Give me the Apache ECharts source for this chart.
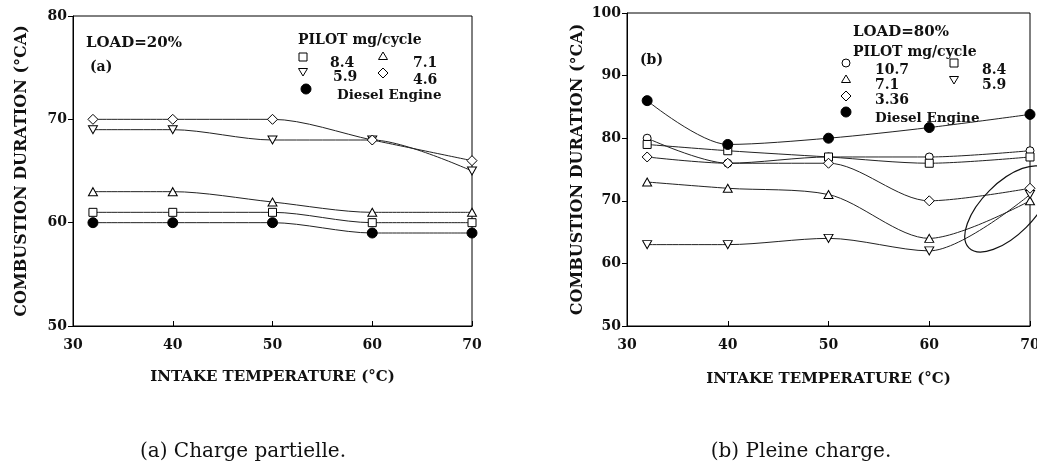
<!DOCTYPE html>
<html>
<head>
<meta charset="utf-8">
<script src="https://cdn.jsdelivr.net/npm/echarts@6/dist/echarts.min.js"></script>
<style>
html,body{margin:0;padding:0;background:#fff;}
#chart{width:1037px;height:470px;}
</style>
</head>
<body>
<div id="chart"></div>
<script>
// ---- data ----
const temps = [32, 40, 50, 60, 70];
const xTicks = [30, 40, 50, 60, 70];
// (a) partial load 20%
const a_p84 = [61, 61, 61, 60, 60];
const a_p71 = [63, 63, 62, 61, 61];
const a_p59 = [69, 69, 68, 68, 65];
const a_p46 = [70, 70, 70, 68, 66];
const a_diesel = [60, 60, 60, 59, 59];
// (b) full load 80%
const b_p107 = [80, 76, 77, 77, 78];
const b_p84 = [79, 78, 77, 76, 77];
const b_p71 = [73, 72, 71, 64, 70];
const b_p59 = [63, 63, 64, 62, 71];
const b_p336 = [77, 76, 76, 70, 72];
const b_diesel = [86, 79, 80, 81.7, 83.8];

const FONT = 'DejaVu Serif';
const DOWN_TRI = 'path://M0,0 L10,0 L5,9 Z';

function pairs(vals){ return temps.map((t,i)=>[t, vals[i]]); }

function mk(name, vals, gi, symbol, size, filled){
  return {
    type:'line', name:name, xAxisIndex:gi, yAxisIndex:gi,
    data:pairs(vals), smooth:0.3,
    symbol:symbol, symbolSize:size,
    itemStyle:{color: filled ? '#000' : '#fff', borderColor:'#000', borderWidth:1},
    lineStyle:{color:'#222', width:1},
    emphasis:{disabled:true}, animation:false, z:3
  };
}

function xAx(gi, gap){
  return {
    type:'value', gridIndex:gi, min:30, max:70, interval:10,
    name:'INTAKE TEMPERATURE (°C)', nameLocation:'middle', nameGap:gap,
    nameTextStyle:{fontFamily:FONT, fontWeight:'bold', fontSize:15, color:'#111'},
    axisLine:{lineStyle:{color:'#000', width:1}},
    axisTick:{inside:true, length:5, lineStyle:{color:'#000'}},
    axisLabel:{fontFamily:FONT, fontWeight:'bold', fontSize:14, color:'#111', margin:12,
      formatter:(v)=> xTicks.includes(v) ? String(v) : ''},
    splitLine:{show:false}
  };
}
function yAx(gi, min, max, gap){
  return {
    type:'value', gridIndex:gi, min:min, max:max, interval:10,
    name:'COMBUSTION DURATION (°CA)', nameLocation:'middle', nameGap:gap,
    nameTextStyle:{fontFamily:FONT, fontWeight:'bold', fontSize:16, color:'#111'},
    axisLine:{show:true, lineStyle:{color:'#000', width:1}},
    axisTick:{show:true, inside:false, length:5, lineStyle:{color:'#000'}},
    axisLabel:{fontFamily:FONT, fontWeight:'bold', fontSize:14, color:'#111', margin:6},
    splitLine:{show:false}
  };
}

// legend drawing helpers
const stroke = {fill:'#fff', stroke:'#000', lineWidth:1};
function sym(kind, x, y){
  switch(kind){
    case 'rect': return {type:'rect', x:x, y:y, shape:{x:-4,y:-4,width:8,height:8}, style:stroke, z:10};
    case 'tri': return {type:'polygon', x:x, y:y, shape:{points:[[0,-4],[4.5,3.5],[-4.5,3.5]]}, style:stroke, z:10};
    case 'dtri': return {type:'polygon', x:x, y:y, shape:{points:[[-4.5,-3.5],[4.5,-3.5],[0,4]]}, style:stroke, z:10};
    case 'dia': return {type:'polygon', x:x, y:y, shape:{points:[[0,-5],[5,0],[0,5],[-5,0]]}, style:stroke, z:10};
    case 'circ': return {type:'circle', x:x, y:y, shape:{cx:0,cy:0,r:4}, style:stroke, z:10};
    case 'dot': return {type:'circle', x:x, y:y, shape:{cx:0,cy:0,r:5}, style:{fill:'#000', stroke:'#000'}, z:10};
  }
}
function txt(s, x, y, size, weight, align){
  return {type:'text', x:x, y:y, z:10,
    style:{text:s, font:(weight||'bold')+' '+(size||14)+'px "'+FONT+'"', fill:'#111',
      align:align||'left', verticalAlign:'middle', textAlign:align||'left', textVerticalAlign:'middle'}};
}

const graphics = [
  // panel (a)
  txt('LOAD=20%', 86, 43, 15),
  txt('(a)', 90, 67, 14),
  txt('PILOT mg/cycle', 298, 40, 14),
  sym('rect', 303, 57), txt('8.4', 330, 63, 14),
  sym('tri', 383, 56), txt('7.1', 413, 63, 14),
  sym('dtri', 303, 72), txt('5.9', 333, 77, 14),
  sym('dia', 383, 73), txt('4.6', 413, 80, 14),
  sym('dot', 306, 89), txt('Diesel Engine', 337, 95, 13.5),
  // panel (b)
  txt('LOAD=80%', 853, 32, 15),
  txt('(b)', 640, 60, 14),
  txt('PILOT mg/cycle', 853, 52, 14),
  sym('circ', 846, 63), txt('10.7', 875, 70, 14),
  sym('rect', 954, 63), txt('8.4', 982, 70, 14),
  sym('tri', 846, 79), txt('7.1', 875, 85, 14),
  sym('dtri', 954, 80), txt('5.9', 982, 85, 14),
  sym('dia', 846, 96), txt('3.36', 875, 100, 14),
  sym('dot', 846, 112), txt('Diesel Engine', 875, 118, 13.5),
  // captions
  txt('(a) Charge partielle.', 243, 452, 20, 'normal', 'center'),
  txt('(b) Pleine charge.', 801, 452, 20, 'normal', 'center')
];

const chart = echarts.init(document.getElementById('chart'), null, {renderer:'canvas'});
const option = {
  backgroundColor:'#fff',
  animation:false,
  grid:[
    {left:73, top:16, width:399, height:310, show:true, borderColor:'#000', borderWidth:1,
     backgroundColor:'transparent', containLabel:false, outerBoundsMode:'none'},
    {left:627, top:13, width:403, height:313, show:true, borderColor:'#000', borderWidth:1,
     backgroundColor:'transparent', containLabel:false, outerBoundsMode:'none'}
  ],
  xAxis:[xAx(0, 44), xAx(1, 46)],
  yAxis:[yAx(0, 50, 80, 43), yAx(1, 50, 100, 41)],
  series:[
    mk('8.4', a_p84, 0, 'rect', 8, false),
    mk('7.1', a_p71, 0, 'triangle', [9,8], false),
    mk('5.9', a_p59, 0, DOWN_TRI, [9,8], false),
    mk('4.6', a_p46, 0, 'diamond', [10,10], false),
    mk('Diesel Engine', a_diesel, 0, 'circle', 10, true),
    mk('10.7', b_p107, 1, 'circle', 8, false),
    mk('8.4', b_p84, 1, 'rect', 8, false),
    mk('7.1', b_p71, 1, 'triangle', [9,8], false),
    mk('5.9', b_p59, 1, DOWN_TRI, [9,8], false),
    mk('3.36', b_p336, 1, 'diamond', [10,10], false),
    mk('Diesel Engine', b_diesel, 1, 'circle', 10, true)
  ],
  graphic:graphics
};
chart.setOption(option);

// hand-drawn ellipse annotation around the 70 °C convergence in panel (b)
const c = chart.convertToPixel({gridIndex:1}, [67.8, 68.7]);
chart.setOption({graphic: graphics.concat([{
  type:'ellipse', x:c[0], y:c[1], rotation:Math.PI/4,
  shape:{cx:0, cy:0, rx:55, ry:26},
  style:{fill:'none', stroke:'#111', lineWidth:1.2}, z:11
}])}, {replaceMerge:['graphic']});
</script>
</body>
</html>
